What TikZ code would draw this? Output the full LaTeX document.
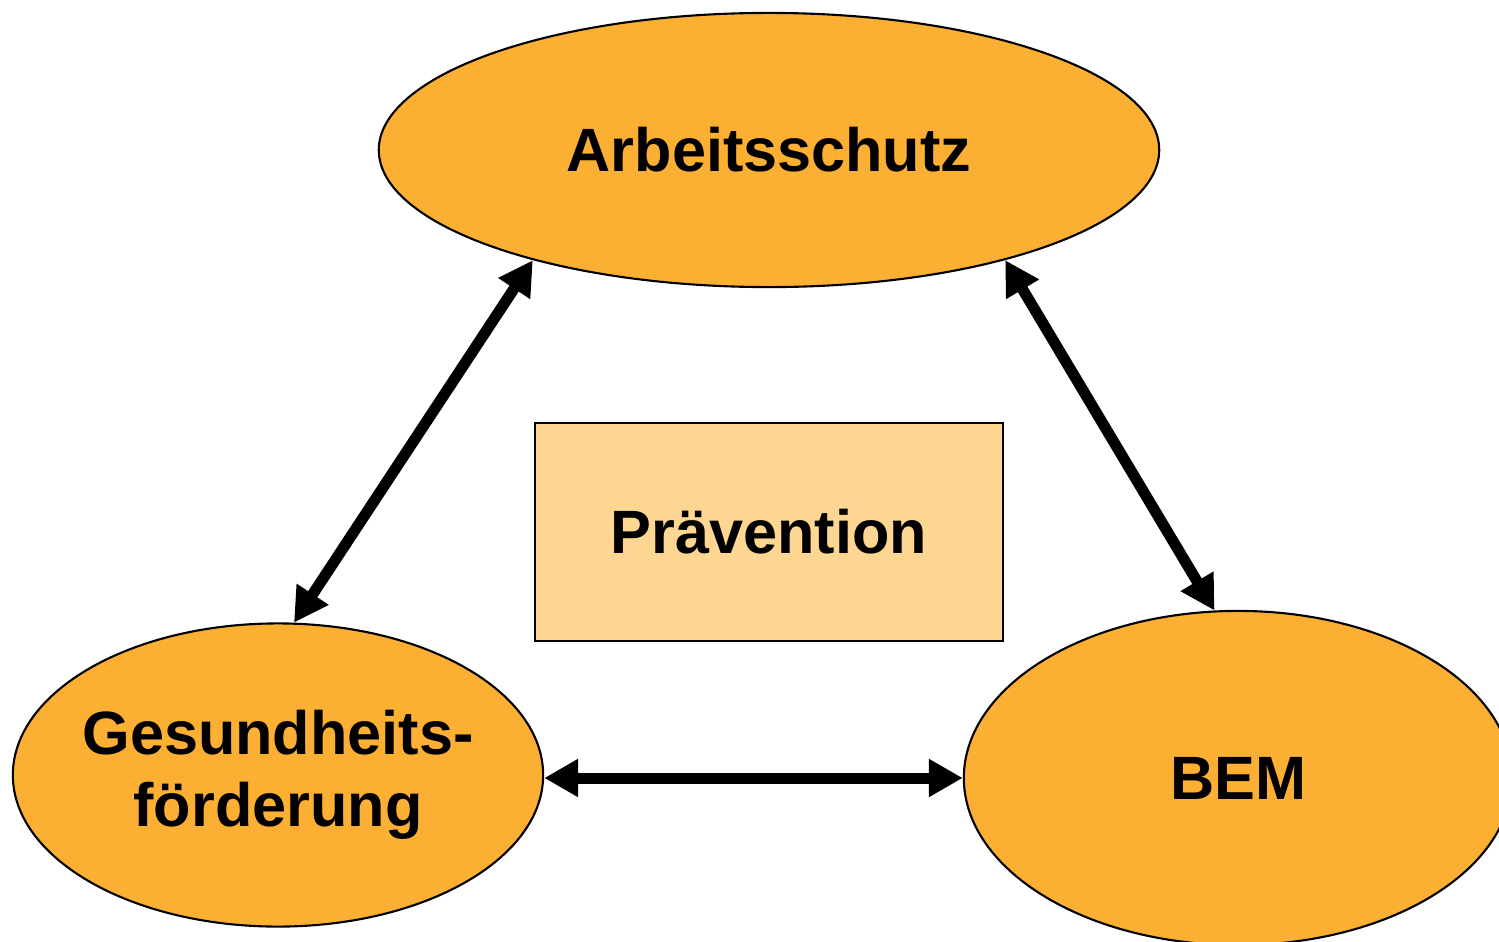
\documentclass[tikz,border=0pt]{standalone}
\usepackage{fontspec}
\setmainfont{Liberation Sans}
\usetikzlibrary{arrows.meta,shapes.geometric}
\definecolor{orangefeld}{RGB}{251,176,52}
\definecolor{hellfeld}{RGB}{253,215,145}

\begin{document}
\begin{tikzpicture}[x=0.01cm,y=-0.01cm,font=\fontsize{17.4}{20.5}\selectfont\bfseries,
  oval node/.style={ellipse,draw,fill=orangefeld,inner sep=0pt,line width=0.6pt,align=center},
  box node/.style={rectangle,draw,fill=hellfeld,inner sep=0pt,line width=0.6pt},
  pfeil/.style={{Triangle[length=0.34cm,width=0.36cm]}-{Triangle[length=0.34cm,width=0.36cm]},line width=0.11cm}]
  \useasboundingbox (0,0) rectangle (1499,942);
  % Felder
  \node [oval node,minimum width=7.8cm,minimum height=2.74cm](AS) at (769,150) {Arbeitsschutz};
  \node [oval node,inner sep=-0.3cm,minimum width=5.3cm,minimum height=3.03cm](GF) at (278,775) {Gesundheits-\\förderung};
  \node [oval node,minimum width=5.48cm,minimum height=3.34cm](BEM) at (1238,778) {BEM};
  \node [box node,minimum width=4.68cm,minimum height=2.17cm](PRAE) at (769,532) {Prävention};

  \draw [pfeil] (AS.205) -- (GF.84);
  \draw [pfeil] (AS.335) -- (BEM.98);
  \draw [pfeil] (GF.east |- BEM.west) -- (BEM.west);
\end{tikzpicture}
\end{document}
